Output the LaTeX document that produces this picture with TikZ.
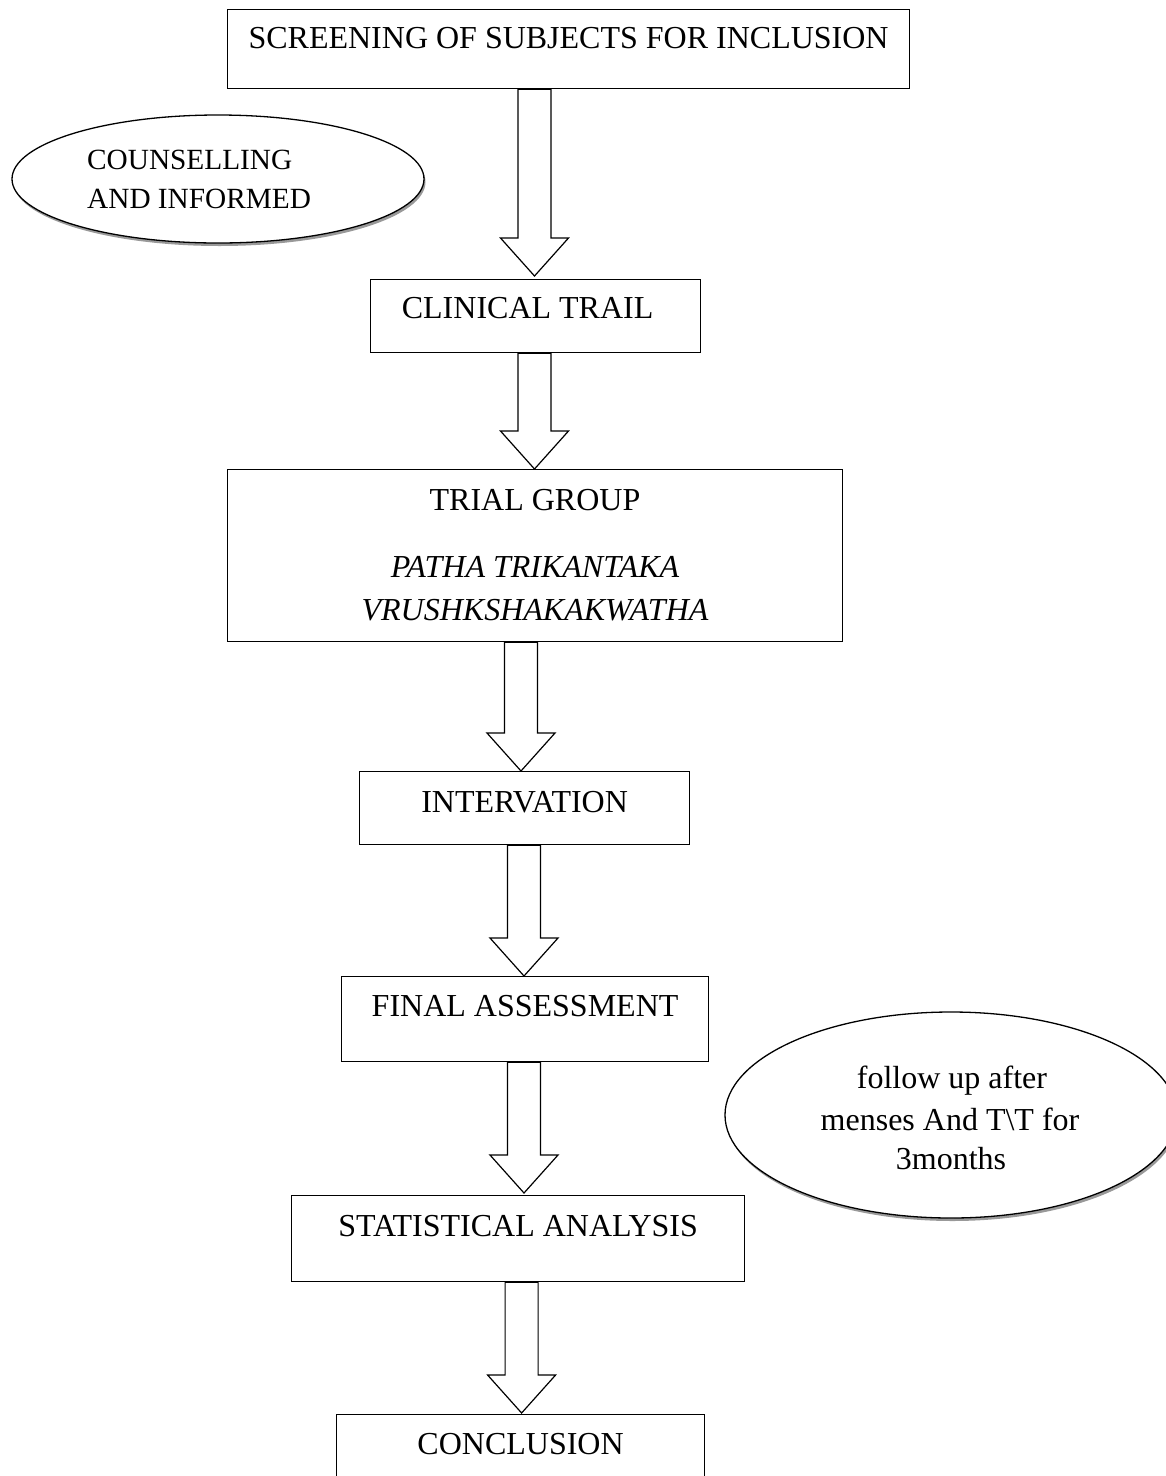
\documentclass[tikz,border=0pt]{standalone}
\usepackage{fontspec}
\setmainfont{Liberation Serif}
\usetikzlibrary{shapes.geometric,shadows,calc}
\tikzset{
  box/.style={draw, line width=1.2pt, inner sep=0pt, anchor=north west, font=\fontsize{32}{42}\selectfont},
  txt/.style={inner sep=0pt, anchor=base, font=\fontsize{32}{42}\selectfont},
  smalltxt/.style={inner sep=0pt, anchor=base west, font=\fontsize{29.3}{39}\selectfont},
  oval/.style={ellipse, draw, line width=1.3pt, fill=white, inner sep=0pt,
    drop shadow={shadow xshift=1.5pt, shadow yshift=-3pt, fill=black!40, opacity=1}},
  blockarr/.style={draw, line width=1.2pt, fill=white, line join=miter}
}
\newcommand\blockarrow[2]{%
  \draw[blockarr] let \p1=(#1), \p2=(#2) in
    (\x1-16.5pt,\y1) -- (\x1-16.5pt,\y2+38pt) -- (\x1-34pt,\y2+38pt) -- (\x2,\y2)
    -- (\x1+34pt,\y2+38pt) -- (\x1+16.5pt,\y2+38pt) -- (\x1+16.5pt,\y1) -- cycle;}
\begin{document}
\begin{tikzpicture}[x=1pt,y=-1pt]
\useasboundingbox (0,0) rectangle (1166,1476);
\fill[white] (0,0) rectangle (1166,1476);

% boxes
\node[box, minimum width=682, text height=39.3, text depth=39.7] (scr) at (227,9) {SCREENING OF SUBJECTS FOR INCLUSION};
\node[box, minimum width=330, text height=39, text depth=34] (clin) at (370,279) {CLINICAL TRAIL\kern16pt};
\node[box, minimum width=615, minimum height=172] (trial) at (227,469) {};
\node[box, minimum width=330, text height=40.7, text depth=32.3] (interv) at (359,771) {INTERVATION};
\node[box, minimum width=367, text height=40, text depth=45.5] (final) at (341,975.5) {FINAL ASSESSMENT};
\node[box, minimum width=453, text height=41, text depth=45] (stat) at (291,1195) {STATISTICAL ANALYSIS};
\node[box, minimum width=368, text height=40, text depth=70] (concl) at (336,1414) {CONCLUSION};

% trial group text
\node[txt] (tg1) at (535,510) {TRIAL GROUP};
\node[txt] (tg2) at (535,577.5) {\itshape PATHA TRIKANTAKA};
\node[txt] (tg3) at (535,620) {\itshape VRUSHKSHAKAKWATHA};

% ellipses
\node[oval, minimum width=412, minimum height=128] (couns) at (218,179) {};
\node[smalltxt] (c1) at (87,169) {COUNSELLING};
\node[smalltxt] (c2) at (87,208) {AND INFORMED};

\node[oval, minimum width=452, minimum height=206] (follow) at (951,1115) {};
\node[txt] (f1) at (952,1088) {follow up after};
\node[txt] (f2) at (950,1130) {menses And T\textbackslash T for};
\node[txt] (f3) at (951,1169) {3months};

% arrow tips
\coordinate (t1) at (534.5,276);
\coordinate (t2) at (534.5,469);
\coordinate (t3) at (521,771);
\coordinate (t4) at (524,976);
\coordinate (t5) at (524,1193);
\coordinate (t6) at (521.6,1413);

\blockarrow{scr.south -| t1}{t1}
\blockarrow{clin.south -| t2}{t2}
\blockarrow{trial.south -| t3}{t3}
\blockarrow{interv.south -| t4}{t4}
\blockarrow{final.south -| t5}{t5}
\blockarrow{stat.south -| t6}{t6}
\end{tikzpicture}
\end{document}
